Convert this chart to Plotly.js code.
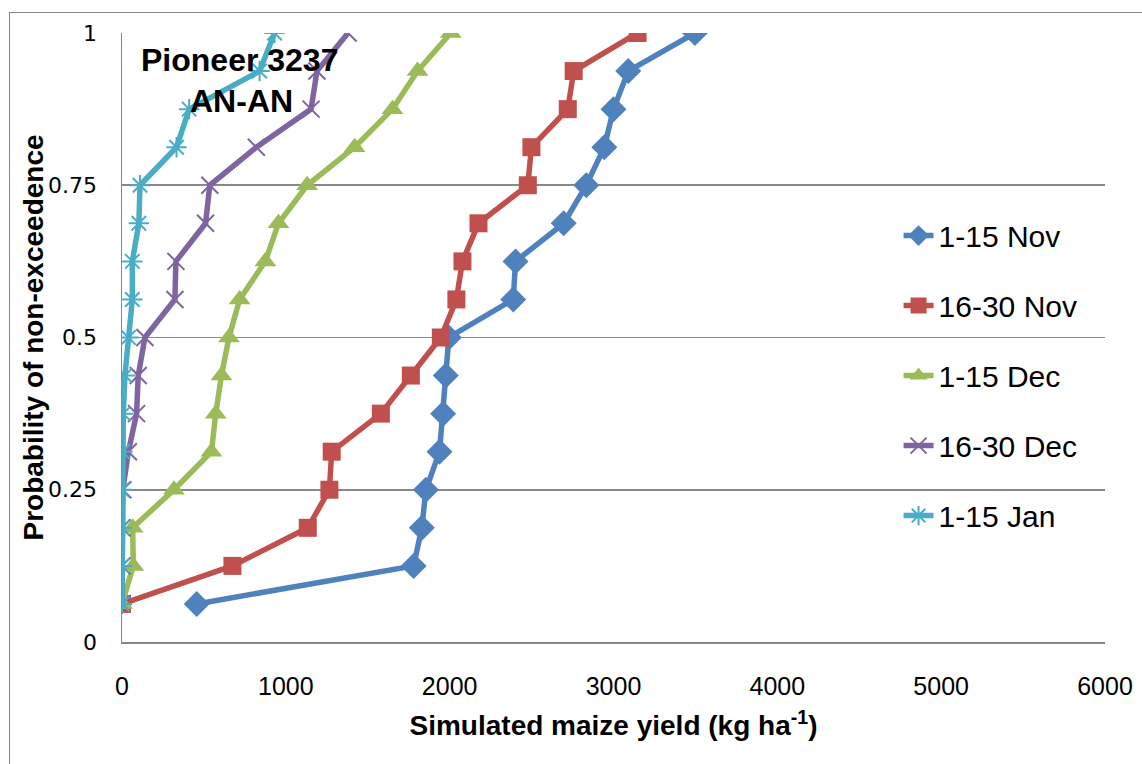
<!DOCTYPE html>
<html>
<head>
<meta charset="utf-8">
<script src="https://cdn.plot.ly/plotly-3.0.1.min.js"></script>
<style>
  html, body { margin: 0; padding: 0; width: 1142px; height: 764px; overflow: hidden; background: #fff; }
  #frame { position: absolute; left: 9px; top: 12px; width: 1300px; height: 900px; border: 1.5px solid #888; }
  #chart { position: absolute; left: 0; top: 0; width: 1142px; height: 764px; }
</style>
</head>
<body>
<div id="frame"></div>
<div id="chart"></div>
<script>
// Probability of non-exceedence (y values, shared by all series)
const probability = [0.0625, 0.125, 0.1875, 0.25, 0.3125, 0.375, 0.4375, 0.5,
                     0.5625, 0.625, 0.6875, 0.75, 0.8125, 0.875, 0.9375, 1];

// Simulated maize yield (kg ha-1) for each planting window
const seriesNames = ["1-15 Nov", "16-30 Nov", "1-15 Dec", "16-30 Dec", "1-15 Jan"];
const nov1_15  = [456, 1780, 1830, 1855, 1938, 1960, 1976, 1995, 2388, 2402, 2696, 2834, 2944, 3000, 3090, 3497];
const nov16_30 = [0, 674, 1134, 1266, 1280, 1580, 1763, 1946, 2041, 2078, 2176, 2477, 2499, 2721, 2757, 3147];
const dec1_15  = [0, 69, 65, 317, 546, 572, 607, 653, 718, 875, 955, 1130, 1420, 1651, 1804, 2007];
const dec16_30 = [0, 0, 0, 5, 39, 89, 99, 140, 323, 329, 510, 536, 820, 1154, 1190, 1380];
const jan1_15  = [0, 0, 0, 0, 3, 8, 18, 39, 63, 63, 103, 110, 333, 410, 840, 931];

const xTickVals = [0, 1000, 2000, 3000, 4000, 5000, 6000];
const yTickVals = [0, 0.25, 0.5, 0.75, 1];
const yTickText = ["0", "0.25", "0.5", "0.75", "1"];

const allSeries = [nov1_15, nov16_30, dec1_15, dec16_30, jan1_15];
const styles = [
  {color: "#4F81BD", marker: {symbol: "diamond", size: 20}},
  {color: "#C0504D", marker: {symbol: "square", size: 18}},
  {color: "#9BBB59", marker: {symbol: "triangle-up", size: 19}},
  {color: "#8064A2", marker: {symbol: "x-thin-open", size: 17, line: {width: 2}}},
  {color: "#4BACC6", marker: {symbol: "asterisk-open", size: 17, line: {width: 2}}}
];

const traces = allSeries.map((xs, i) => ({
  type: "scatter",
  mode: "lines+markers",
  name: seriesNames[i],
  legendgroup: "g" + i,
  x: xs,
  y: probability,
  line: {color: styles[i].color, width: 5.5},
  marker: Object.assign({color: styles[i].color}, styles[i].marker,
          styles[i].marker.line ? {line: {color: styles[i].color, width: styles[i].marker.line.width}} : {})
}));

const FONT = "Liberation Sans, Arial, sans-serif";

const layout = {
  width: 1142, height: 764,
  margin: {l: 122, r: 37, t: 33, b: 122, pad: 0},
  paper_bgcolor: "rgba(0,0,0,0)",
  plot_bgcolor: "rgba(0,0,0,0)",
  showlegend: true,
  legend: {
    x: 0.79, y: 0.71, xanchor: "left", yanchor: "top",
    font: {family: FONT, size: 30, color: "#000"},
    bgcolor: "rgba(0,0,0,0)",
    traceorder: "grouped",
    tracegroupgap: 28
  },
  xaxis: {
    range: [0, 6000],
    tickvals: xTickVals,
    showgrid: false, zeroline: false,
    showline: true, linecolor: "#888", linewidth: 1.5,
    ticks: "outside", ticklen: 21, tickcolor: "rgba(0,0,0,0)",
    tickfont: {family: FONT, size: 25, color: "#000"},
    title: {text: "<b>Simulated maize yield (kg ha<sup>-1</sup>)</b>",
            font: {family: FONT, size: 28, color: "#000"},
            standoff: 17},
    fixedrange: true
  },
  yaxis: {
    range: [0, 1],
    tickvals: yTickVals, ticktext: yTickText,
    showgrid: true, gridcolor: "#888", gridwidth: 1.8,
    zeroline: false,
    showline: true, linecolor: "#888", linewidth: 1.5,
    ticks: "outside", ticklen: 19, tickcolor: "rgba(0,0,0,0)",
    tickfont: {family: "DejaVu Sans, Verdana, sans-serif", size: 22, color: "#000"},
    fixedrange: true
  },
  annotations: [
    {xref: "paper", yref: "paper", x: -0.0905, y: 0.5, xanchor: "center", yanchor: "middle",
     textangle: -90, text: "<b>Probability of non-exceedence</b>", showarrow: false,
     font: {family: FONT, size: 28, color: "#000"}},
    {xref: "paper", yref: "paper", x: 0.12, y: 0.955, xanchor: "center", yanchor: "middle",
     text: "<b>Pioneer 3237</b>", showarrow: false,
     font: {family: FONT, size: 32, color: "#000"}},
    {xref: "paper", yref: "paper", x: 0.122, y: 0.889, xanchor: "center", yanchor: "middle",
     text: "<b>AN-AN</b>", showarrow: false,
     font: {family: FONT, size: 32, color: "#000"}}
  ]
};

Plotly.newPlot("chart", traces, layout, {displayModeBar: false, staticPlot: true});
</script>
</body>
</html>
